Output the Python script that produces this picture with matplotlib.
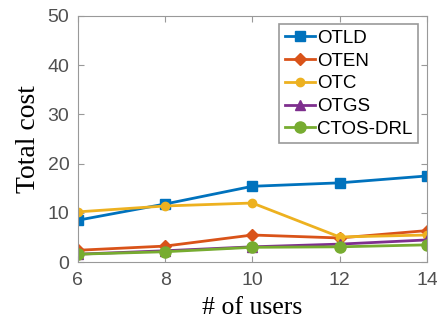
import matplotlib
matplotlib.use("Agg")
import matplotlib.pyplot as plt

users = [6, 8, 10, 12, 14]
otld = [8.5, 11.8, 15.4, 16.1, 17.5]
oten = [2.4, 3.25, 5.5, 4.9, 6.4]
otc = [10.2, 11.4, 12.0, 5.1, 5.5]
otgs = [1.6, 2.3, 3.1, 3.65, 4.5]
ctos = [1.6, 2.1, 3.0, 3.1, 3.5]

fig = plt.figure(figsize=(4.37, 3.2), dpi=100)
ax = fig.add_axes([0.178, 0.181, 0.799, 0.769])

ax.plot(users, otld, '-s', color='#0072BD', lw=2, ms=7, label='OTLD')
ax.plot(users, oten, '-D', color='#D95319', lw=2, ms=6, label='OTEN')
ax.plot(users, otc, '-o', color='#EDB120', lw=2, ms=6, label='OTC')
ax.plot(users, otgs, '-^', color='#7E2F8E', lw=2, ms=7, label='OTGS')
ax.plot(users, ctos, '-o', color='#77AC30', lw=2, ms=8, label='CTOS-DRL')

ax.set_xlim(6, 14)
ax.set_ylim(0, 50)
ax.set_xticks(users)
ax.set_yticks([0, 10, 20, 30, 40, 50])
for s in ax.spines.values():
    s.set_color('#999999')
ax.tick_params(direction='in', top=True, right=True, colors='#999999',
               labelcolor='#505050', labelsize=14, length=4)
ax.tick_params(axis='x', pad=7)
ax.tick_params(axis='y', pad=6)
for t in ax.get_xticklabels() + ax.get_yticklabels():
    t.set_family('Liberation Sans')

ax.set_xlabel('# of users', family='Liberation Serif', fontsize=18.5, labelpad=6)
ax.set_ylabel('Total cost', family='Liberation Serif', fontsize=20, labelpad=5)

leg = ax.legend(loc='upper right', prop={'family': 'Liberation Sans', 'size': 13.5},
                fancybox=False, framealpha=1, edgecolor='#999999',
                handlelength=1.6, handletextpad=0.1, labelspacing=0.3,
                borderpad=0.3, borderaxespad=0, bbox_to_anchor=(0.974, 0.967))
leg.get_frame().set_linewidth(1.2)

fig.savefig('out.png', dpi=100)
